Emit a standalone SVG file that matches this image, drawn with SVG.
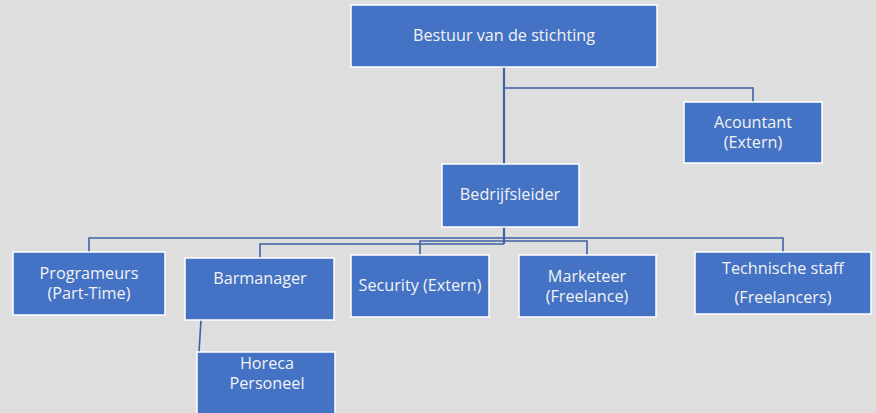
<svg xmlns="http://www.w3.org/2000/svg" width="876" height="413" viewBox="0 0 876 413">
<style>
.box{fill:#4472C4;stroke:#FFFFFF;stroke-width:1.5}
.t{font-family:"Open Sans","Noto Sans","Liberation Sans",sans-serif;font-size:16.2px;fill:#F2F2F2;text-anchor:middle;dominant-baseline:central}
.c{fill:none;stroke:#3F62A6;stroke-width:1.6}
.c2{fill:none;stroke:#3F62A6;stroke-width:2.2}
</style>
<rect width="876" height="413" fill="#DEDEDE"/>
<g id="connectors">
<path class="c2" d="M504 67 V164"/>
<path class="c" d="M504 88 H753 V102"/>
<path class="c2" d="M504 227 V244"/>
<path class="c" d="M89 252 V238 H783 V252"/>
<path class="c" d="M420 255 V241 H587 V255"/>
<path class="c" d="M260 258 V244 H504"/>
<path class="c" d="M201 320 L199 352"/>
</g>
<g id="bestuur"><rect class="box" x="351" y="5" width="306" height="62"/><text class="t" x="504" y="35">Bestuur van de stichting</text></g>
<g id="acountant"><rect class="box" x="684" y="102" width="138" height="61"/><text class="t" x="753" y="122">Acountant</text><text class="t" x="753" y="142">(Extern)</text></g>
<g id="bedrijfsleider"><rect class="box" x="442" y="164" width="137" height="63"/><text class="t" x="510" y="194">Bedrijfsleider</text></g>
<g id="programeurs"><rect class="box" x="13" y="252" width="152" height="63"/><text class="t" x="89" y="273">Programeurs</text><text class="t" x="89" y="293">(Part-Time)</text></g>
<g id="barmanager"><rect class="box" x="185" y="258" width="149" height="62"/><text class="t" x="260" y="278">Barmanager</text></g>
<g id="horeca"><rect class="box" x="197" y="352" width="138" height="66"/><text class="t" x="267" y="363">Horeca</text><text class="t" x="267" y="383">Personeel</text></g>
<g id="security"><rect class="box" x="351" y="255" width="138" height="62"/><text class="t" x="420" y="285">Security (Extern)</text></g>
<g id="marketeer"><rect class="box" x="519" y="255" width="137" height="62"/><text class="t" x="587" y="276">Marketeer</text><text class="t" x="587" y="296">(Freelance)</text></g>
<g id="technische"><rect class="box" x="695" y="252" width="176" height="62"/><text class="t" x="783" y="268">Technische staff</text><text class="t" x="783" y="297">(Freelancers)</text></g>
</svg>
